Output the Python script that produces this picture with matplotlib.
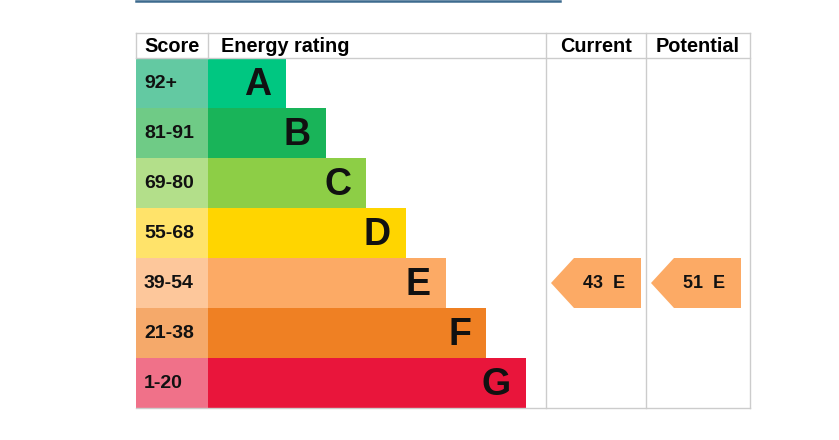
import matplotlib.pyplot as plt
from matplotlib.patches import Rectangle, Polygon

plt.rcParams['font.family'] = ['Liberation Sans', 'DejaVu Sans']

# data
ratings = ["A", "B", "C", "D", "E", "F", "G"]
score_labels = ["92+", "81-91", "69-80", "55-68", "39-54", "21-38", "1-20"]
score_min = [92, 81, 69, 55, 39, 21, 1]
bar_lengths = [78, 118, 158, 198, 238, 278, 318]
bar_colors = ["#00c781", "#19b459", "#8dce46", "#ffd500", "#fcaa65", "#ef8023", "#e9153b"]
cell_colors = ["#63c9a2", "#6fcb86", "#b3df8a", "#ffe36a", "#fdc79b", "#f5a96a", "#f07189"]
current = 43
potential = 51

# layout (pixels)
W, H = 839, 440
left, score_w = 136, 72
top, head_h, row_h = 33, 25, 50
col_cur, col_pot, right = 546, 646, 750
grid = "#cccccc"


def band_of(score):
    for i, lo in enumerate(score_min):
        if score >= lo:
            return i
    return len(score_min) - 1


def draw_arrow(ax, x0, x1, score):
    i = band_of(score)
    y0 = top + head_h + i * row_h
    y1 = y0 + row_h
    ym = (y0 + y1) / 2
    pts = [(x0, ym), (x0 + 23, y0), (x1, y0), (x1, y1), (x0 + 23, y1)]
    ax.add_patch(Polygon(pts, closed=True, facecolor=bar_colors[i], edgecolor="none"))
    ax.text((x0 + 23 + x1) / 2 - 3, ym, f"{score}  {ratings[i]}", ha="center", va="center",
            fontsize=13, fontweight="bold", color="#111111")


fig = plt.figure(figsize=(W / 100, H / 100), dpi=100)
ax = fig.add_axes([0, 0, 1, 1])
ax.set_xlim(0, W)
ax.set_ylim(H, 0)
ax.axis("off")

# top rule
ax.plot([left, 560], [1, 1], color="#3d6b8e", lw=1.8)

bottom = top + head_h + len(ratings) * row_h
for i, r in enumerate(ratings):
    y0 = top + head_h + i * row_h
    ax.add_patch(Rectangle((left, y0), score_w, row_h, facecolor=cell_colors[i], edgecolor="none"))
    ax.add_patch(Rectangle((left + score_w, y0), bar_lengths[i], row_h,
                           facecolor=bar_colors[i], edgecolor="none"))
    ax.text(left + 8, y0 + row_h / 2 + 1, score_labels[i], ha="left", va="center",
            fontsize=14, fontweight="bold", color="#111111")
    ax.text(left + score_w + bar_lengths[i] - 15, y0 + row_h / 2 + 2, r, ha="right", va="center",
            fontsize=27, fontweight="bold", color="#111111")

# grid lines
ax.plot([left, right], [top, top], color=grid, lw=1)
ax.plot([left, right], [top + head_h, top + head_h], color=grid, lw=1)
ax.plot([left, right], [bottom, bottom], color=grid, lw=1)
ax.plot([left, left], [top, top + head_h], color=grid, lw=1)
ax.plot([left + score_w, left + score_w], [top, top + head_h], color=grid, lw=1)
for x in (col_cur, col_pot, right):
    ax.plot([x, x], [top, bottom], color=grid, lw=1)

# headers
hy = top + head_h / 2 + 1
hs = 14.3
ax.text(left + score_w / 2, hy, "Score", ha="center", va="center", fontsize=hs, fontweight="bold")
ax.text(left + score_w + 13, hy, "Energy rating", ha="left", va="center", fontsize=hs, fontweight="bold")
ax.text((col_cur + col_pot) / 2, hy, "Current", ha="center", va="center", fontsize=hs, fontweight="bold")
ax.text((col_pot + right) / 2, hy, "Potential", ha="center", va="center", fontsize=hs, fontweight="bold")

draw_arrow(ax, col_cur + 5, col_pot - 5, current)
draw_arrow(ax, col_pot + 5, right - 9, potential)

fig.savefig("out.png", dpi=100)
